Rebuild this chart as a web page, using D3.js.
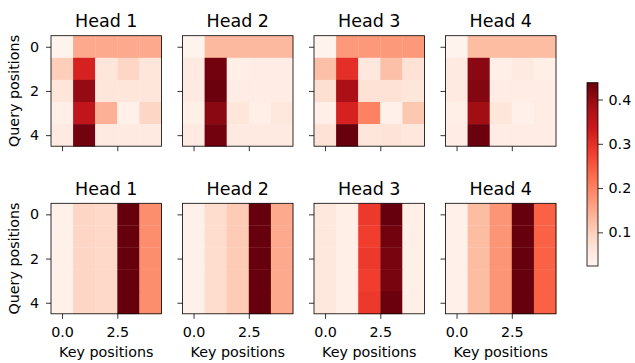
<!doctype html>
<html>
<head>
<meta charset="UTF-8">
<title>Attention heads</title>
<script src="https://d3js.org/d3.v7.min.js"></script>
<style>
  body { margin: 0; background: #fff; }
  text { font-family: "DejaVu Sans", sans-serif; fill: #000; }
</style>
</head>
<body>
<script>
// data ---------------------------------------------------------------
var heads = ["Head 1", "Head 2", "Head 3", "Head 4"];
var xTicks = [0, 2.5];
var yTicks = [0, 2, 4];
var cbarTicks = [0.1, 0.2, 0.3, 0.4];
var vmin = 0.024, vmax = 0.438;

// top row (5 queries x 5 keys)
var topHead1 = [
  [0.03, 0.15, 0.15, 0.15, 0.15],
  [0.10, 0.32, 0.06, 0.09, 0.06],
  [0.06, 0.40, 0.06, 0.06, 0.06],
  [0.04, 0.35, 0.14, 0.035, 0.09],
  [0.05, 0.43, 0.05, 0.05, 0.05]
];
var topHead2 = [
  [0.03, 0.13, 0.13, 0.13, 0.13],
  [0.05, 0.43, 0.04, 0.045, 0.045],
  [0.05, 0.435, 0.045, 0.045, 0.045],
  [0.04, 0.41, 0.06, 0.04, 0.055],
  [0.05, 0.43, 0.05, 0.05, 0.05]
];
var topHead3 = [
  [0.03, 0.17, 0.17, 0.17, 0.17],
  [0.12, 0.30, 0.055, 0.12, 0.07],
  [0.075, 0.38, 0.07, 0.07, 0.06],
  [0.04, 0.32, 0.20, 0.035, 0.11],
  [0.07, 0.438, 0.06, 0.065, 0.055]
];
var topHead4 = [
  [0.03, 0.125, 0.125, 0.125, 0.125],
  [0.05, 0.41, 0.04, 0.05, 0.04],
  [0.05, 0.415, 0.045, 0.045, 0.045],
  [0.04, 0.39, 0.06, 0.035, 0.045],
  [0.045, 0.435, 0.045, 0.045, 0.045]
];
// bottom row
var botHead1 = [
  [0.035, 0.09, 0.085, 0.438, 0.185],
  [0.035, 0.09, 0.085, 0.438, 0.185],
  [0.035, 0.09, 0.085, 0.438, 0.185],
  [0.035, 0.09, 0.085, 0.438, 0.185],
  [0.035, 0.09, 0.085, 0.438, 0.185]
];
var botHead2 = [
  [0.035, 0.08, 0.105, 0.438, 0.15],
  [0.035, 0.08, 0.105, 0.438, 0.15],
  [0.035, 0.08, 0.105, 0.438, 0.15],
  [0.035, 0.08, 0.105, 0.438, 0.15],
  [0.035, 0.08, 0.105, 0.438, 0.15]
];
var botHead3 = [
  [0.055, 0.04, 0.285, 0.438, 0.04],
  [0.055, 0.04, 0.28, 0.43, 0.04],
  [0.055, 0.04, 0.285, 0.425, 0.04],
  [0.055, 0.04, 0.28, 0.425, 0.04],
  [0.055, 0.04, 0.285, 0.435, 0.04]
];
var botHead4 = [
  [0.035, 0.125, 0.175, 0.438, 0.24],
  [0.035, 0.125, 0.175, 0.438, 0.24],
  [0.035, 0.125, 0.175, 0.438, 0.24],
  [0.035, 0.125, 0.175, 0.438, 0.24],
  [0.035, 0.125, 0.175, 0.438, 0.24]
];
var rows = [
  [topHead1, topHead2, topHead3, topHead4],
  [botHead1, botHead2, botHead3, botHead4]
];

// layout ---------------------------------------------------------------
var W = 635, H = 363;
var size = 110.5;
var panelX = [51, 182.5, 314, 445.5];
var panelY = [35.7, 203.3];

// matplotlib "Reds"
var redsStops = ["#fff5f0","#fee0d2","#fcbba1","#fc9272","#fb6a4a","#ef3b2c","#cb181d","#a50f15","#67000d"];
var reds = d3.scaleLinear()
  .domain(d3.range(9).map(function(i){ return i / 8; }))
  .range(redsStops)
  .interpolate(d3.interpolateRgb)
  .clamp(true);
var norm = d3.scaleLinear().domain([vmin, vmax]).range([0, 1]).clamp(true);
function color(v){ return reds(norm(v)); }

var svg = d3.select("body").append("svg").attr("width", W).attr("height", H);

var x = d3.scaleLinear().domain([-0.5, 4.5]).range([0, size]);
var y = d3.scaleLinear().domain([-0.5, 4.5]).range([0, size]);

rows.forEach(function(row, r){
  row.forEach(function(mat, c){
    var g = svg.append("g").attr("transform", "translate(" + panelX[c] + "," + panelY[r] + ")");
    var cells = [];
    mat.forEach(function(line, i){
      line.forEach(function(v, j){ cells.push({i: i, j: j, v: v}); });
    });
    g.selectAll("rect.cell").data(cells).enter().append("rect")
      .attr("class", "cell")
      .attr("x", function(d){ return x(d.j - 0.5); })
      .attr("y", function(d){ return y(d.i - 0.5); })
      .attr("width", function(d){ return x(d.j + 0.5) - x(d.j - 0.5) + 0.3; })
      .attr("height", function(d){ return y(d.i + 0.5) - y(d.i - 0.5) + 0.3; })
      .attr("fill", function(d){ return color(d.v); });

    // x axis
    var xa = d3.axisBottom(x).tickValues(xTicks).tickSize(5).tickSizeOuter(0).tickPadding(8.5)
      .tickFormat(r === 1 ? d3.format(".1f") : function(){ return ""; });
    var gx = g.append("g").attr("transform", "translate(0," + size + ")").call(xa);
    // y axis
    var ya = d3.axisLeft(y).tickValues(yTicks).tickSize(5).tickSizeOuter(0).tickPadding(7)
      .tickFormat(c === 0 ? d3.format("d") : function(){ return ""; });
    var gy = g.append("g").call(ya);
    [gx, gy].forEach(function(a){
      a.select(".domain").remove();
      a.selectAll("line").attr("stroke", "#000").attr("stroke-width", 0.8);
      a.selectAll("text").style("font-family", "DejaVu Sans, sans-serif").style("font-size", "14.3px").attr("fill", "#000");
    });

    g.append("rect").attr("width", size).attr("height", size)
      .attr("fill", "none").attr("stroke", "#000").attr("stroke-width", 0.8);

    g.append("text").attr("x", size / 2).attr("y", -8.5)
      .attr("text-anchor", "middle").style("font-size", "17.5px").text(heads[c]);

    if (r === 1) {
      g.append("text").attr("x", size / 2).attr("y", 153.5)
        .attr("text-anchor", "middle").style("font-size", "14.3px").text("Key positions");
    }
    if (c === 0) {
      g.append("text")
        .attr("transform", "translate(" + (-32) + "," + (size / 2) + ") rotate(-90)")
        .attr("text-anchor", "middle").style("font-size", "14.3px").text("Query positions");
    }
  });
});

// colorbar -------------------------------------------------------------
var cbX = 587, cbW = 11, cbTop = 82.7, cbBot = 266;
var cs = d3.scaleLinear().domain([vmin, vmax]).range([cbBot, cbTop]);
var grad = svg.append("defs").append("linearGradient").attr("id", "cbgrad")
  .attr("x1", 0).attr("y1", 1).attr("x2", 0).attr("y2", 0);
grad.selectAll("stop").data(d3.range(0, 1.0001, 0.05)).enter().append("stop")
  .attr("offset", function(d){ return d; })
  .attr("stop-color", function(d){ return reds(d); });
svg.append("rect").attr("x", cbX).attr("y", cbTop).attr("width", cbW).attr("height", cbBot - cbTop)
  .attr("fill", "url(#cbgrad)").attr("stroke", "#000").attr("stroke-width", 0.8);
var cba = svg.append("g").attr("transform", "translate(" + (cbX + cbW) + ",0)")
  .call(d3.axisRight(cs).tickValues(cbarTicks).tickSize(5).tickSizeOuter(0).tickPadding(5.5).tickFormat(d3.format(".1f")));
cba.select(".domain").remove();
cba.selectAll("line").attr("stroke", "#000").attr("stroke-width", 0.8);
cba.selectAll("text").style("font-family", "DejaVu Sans, sans-serif").style("font-size", "14.3px").attr("fill", "#000");
</script>
</body>
</html>
